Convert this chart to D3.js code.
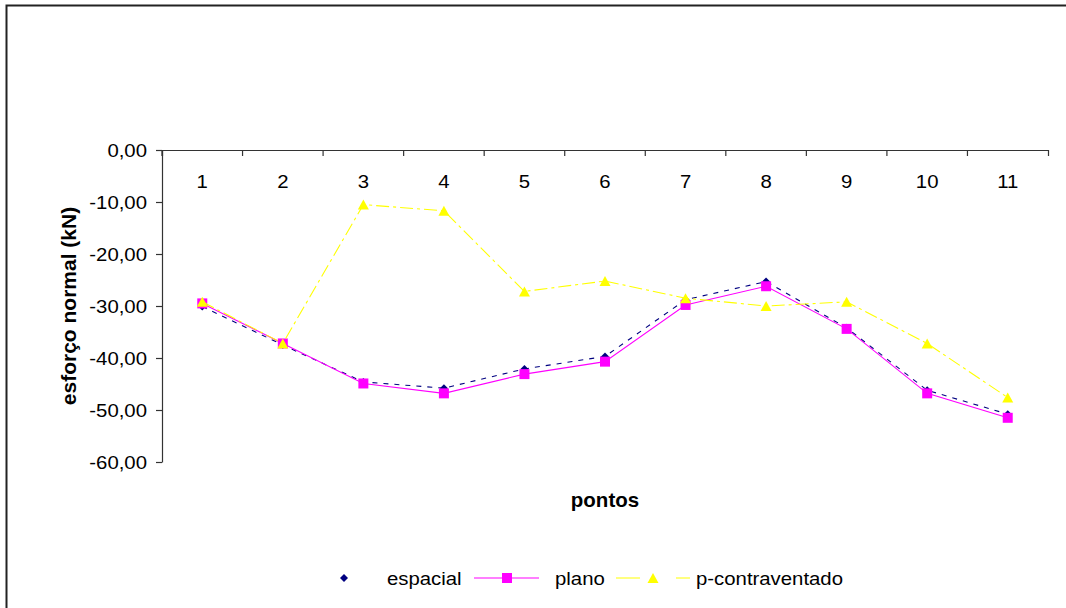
<!DOCTYPE html>
<html>
<head>
<meta charset="utf-8">
<script src="https://cdn.jsdelivr.net/npm/d3@7"></script>
<style>
  html, body { margin: 0; padding: 0; background: #fff; }
  svg { display: block; }
  text { font-family: "Liberation Sans", Arial, sans-serif; fill: #000; }
</style>
</head>
<body>
<svg id="chart" width="1066" height="608"></svg>
<script>
// Data
const categories = ["1", "2", "3", "4", "5", "6", "7", "8", "9", "10", "11"];
const espacial = [-30.1, -37.5, -44.6, -45.8, -42.1, -39.7, -28.8, -25.3, -34.2, -46.2, -50.8];
const plano = [-29.5, -37.2, -44.9, -46.8, -43.1, -40.7, -29.8, -26.2, -34.4, -46.8, -51.5];
const pContraventado = [-29.2, -37.2, -10.5, -11.7, -27.2, -25.2, -28.5, -30.0, -29.2, -37.2, -47.6];
const yTicks = [0, -10, -20, -30, -40, -50, -60];
const seriesNames = ["espacial", "plano", "p-contraventado"];
const yTitle = "esforço normal (kN)";
const xTitle = "pontos";

// Layout
const plot = { left: 162, right: 1048, top: 150, bottom: 462 };
const labelFont = 18.5, labelStretch = 1.1;

const svg = d3.select("#chart");

// Outer chart frame (runs off the right and bottom edges)
svg.append("rect")
  .attr("x", 6.5).attr("y", 5.5)
  .attr("width", 1100).attr("height", 650)
  .attr("fill", "none").attr("stroke", "#222").attr("stroke-width", 2);

const x = d3.scaleBand().domain(categories).range([plot.left, plot.right]).paddingInner(0).paddingOuter(0);
const y = d3.scaleLinear().domain([-60, 0]).range([plot.bottom, plot.top]);
const cx = c => x(c) + x.bandwidth() / 2;

const fmt = d3.formatLocale({ decimal: ",", thousands: ".", grouping: [3], currency: ["", ""], minus: "-" }).format(".2f");

function stretched(parent, tx, ty, str, anchor, size, weight) {
  return parent.append("text")
    .attr("transform", `translate(${tx},${ty}) scale(${labelStretch},1)`)
    .attr("text-anchor", anchor)
    .style("font-size", size + "px")
    .style("font-weight", weight || "normal")
    .text(str);
}

// Y axis (ticks outside, left)
const yAxisG = svg.append("g")
  .attr("transform", `translate(${plot.left},0)`)
  .call(d3.axisLeft(y).tickValues(yTicks).tickSize(6).tickSizeOuter(0).tickFormat(""));
yAxisG.selectAll("path, line").attr("stroke", "#333").attr("stroke-width", 1.2);

yTicks.forEach(v => stretched(svg, 147, y(v) + 6.5, fmt(v), "end", labelFont));

// X axis along the zero line, ticks at category boundaries pointing inward
const xAxisG = svg.append("g")
  .attr("transform", `translate(0,${y(0)})`)
  .call(d3.axisBottom(x).tickSizeInner(6).tickSizeOuter(6).tickFormat(""));
xAxisG.selectAll(".tick").attr("transform", d => `translate(${x(d)},0)`);
xAxisG.selectAll("path, line").attr("stroke", "#333").attr("stroke-width", 1.2);

categories.forEach(c => stretched(svg, cx(c), y(0) + 38, c, "middle", labelFont));

// Axis titles
svg.append("text")
  .attr("transform", `translate(76,${(plot.top + plot.bottom) / 2}) rotate(-90)`)
  .attr("text-anchor", "middle")
  .style("font-size", "21px").style("font-weight", "bold")
  .text(yTitle);

svg.append("text")
  .attr("x", (plot.left + plot.right) / 2).attr("y", 507)
  .attr("text-anchor", "middle")
  .style("font-size", "20.5px").style("font-weight", "bold")
  .text(xTitle);

// Marker shapes
const markerPath = {
  diamond: r => `M0,${-r}L${r},0L0,${r}L${-r},0Z`,
  square: r => `M${-r},${-r}H${r}V${r}H${-r}Z`,
  triangle: r => `M0,${-r}L${r * 1.1},${r}H${-r * 1.1}Z`
};

const series = [
  { name: seriesNames[0], values: espacial, color: "#000080", dash: "5,6", marker: "diamond", r: 4 },
  { name: seriesNames[1], values: plano, color: "#FF00FF", dash: null, marker: "square", r: 5 },
  { name: seriesNames[2], values: pContraventado, color: "#FFFF00", dash: "13,4,3,4", marker: "triangle", r: 5 }
];

const line = d3.line().x((d, i) => cx(categories[i])).y(d => y(d));

series.forEach(s => {
  const g = svg.append("g");
  g.append("path")
    .attr("d", line(s.values))
    .attr("fill", "none")
    .attr("stroke", s.color)
    .attr("stroke-width", 1.1)
    .attr("stroke-dasharray", s.dash);
  g.selectAll("path.m").data(s.values).join("path")
    .attr("class", "m")
    .attr("transform", (d, i) => `translate(${cx(categories[i])},${y(d)})`)
    .attr("d", markerPath[s.marker](s.r))
    .attr("fill", s.color);
});

// Legend
const legendY = 578;
const legendItems = [
  { s: series[0], lineFrom: null, lineTo: null, dash: null, mark: 344, text: 387 },
  { s: series[1], lineFrom: 474, lineTo: 539, dash: null, mark: 507, text: 555 },
  { s: series[2], lineFrom: 616, lineTo: 690, dash: "24,36,14", mark: 653, text: 696 }
];
legendItems.forEach(it => {
  const g = svg.append("g");
  if (it.lineFrom !== null) {
    g.append("line")
      .attr("x1", it.lineFrom).attr("x2", it.lineTo)
      .attr("y1", legendY).attr("y2", legendY)
      .attr("stroke", it.s.color).attr("stroke-width", 1.2)
      .attr("stroke-dasharray", it.dash);
  }
  g.append("path")
    .attr("transform", `translate(${it.mark},${legendY})`)
    .attr("d", markerPath[it.s.marker](it.s.r))
    .attr("fill", it.s.color);
  stretched(g, it.text, legendY + 7, it.s.name, "start", labelFont);
});
</script>
</body>
</html>
